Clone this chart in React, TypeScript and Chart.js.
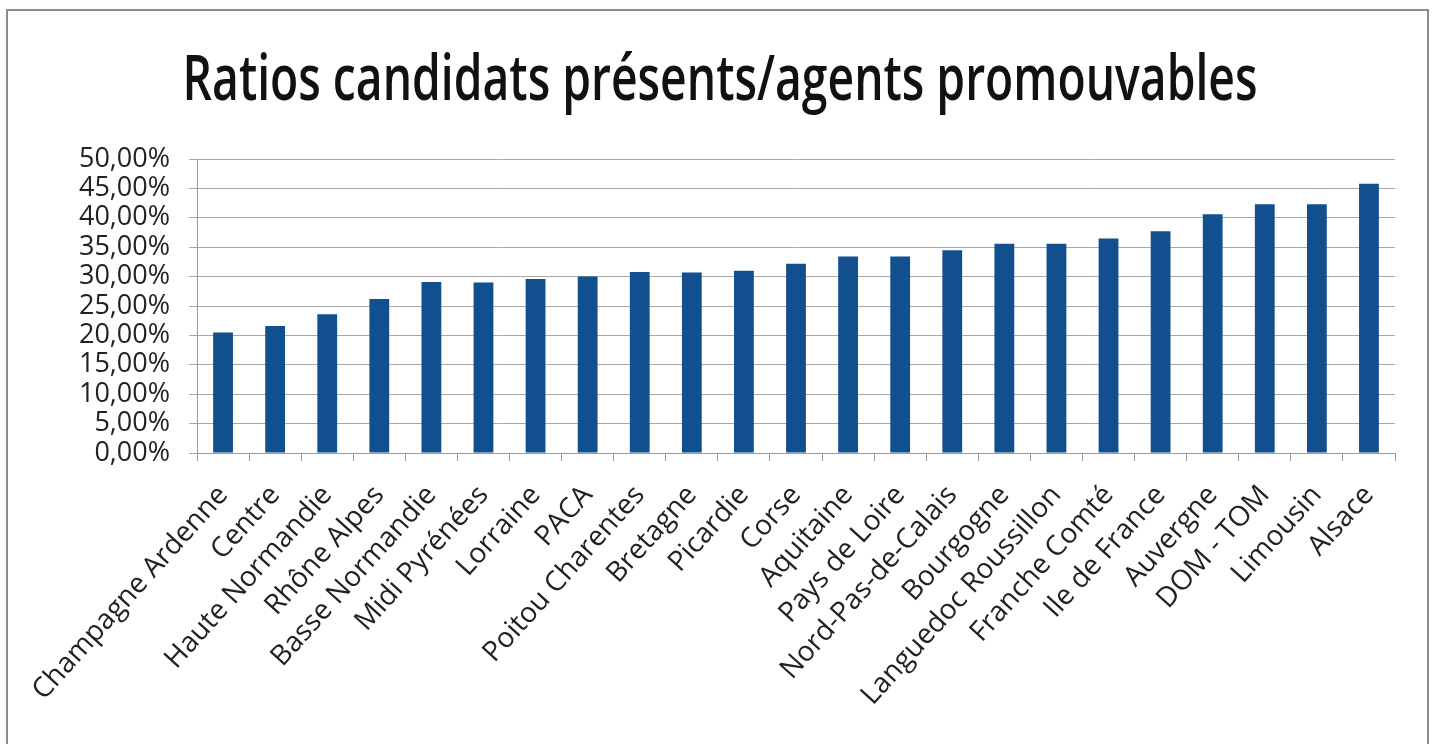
import React, { useEffect, useRef } from 'react';
import { Chart, registerables } from 'chart.js';

Chart.register(...registerables);

const TITLE = 'Ratios candidats présents/agents promouvables';

const categories = [
  'Champagne Ardenne', 'Centre', 'Haute Normandie', 'Rhône Alpes', 'Basse Normandie',
  'Midi Pyrénées', 'Lorraine', 'PACA', 'Poitou Charentes', 'Bretagne', 'Picardie',
  'Corse', 'Aquitaine', 'Pays de Loire', 'Nord-Pas-de-Calais', 'Bourgogne',
  'Languedoc Roussillon', 'Franche Comté', 'Ile de France', 'Auvergne', 'DOM - TOM',
  'Limousin', 'Alsace',
];

const ratios = [
  20.5, 21.6, 23.6, 26.2, 29.1,
  29.0, 29.6, 30.0, 30.8, 30.7, 31.0,
  32.2, 33.4, 33.4, 34.5, 35.6,
  35.6, 36.5, 37.7, 40.6, 42.3,
  42.3, 45.8,
];

const yMin = 0;
const yMax = 50;
const yStep = 5;

const formatPct = (v: number) => v.toFixed(2).replace('.', ',') + '%';

const titlePlugin = {
  id: 'scaledTitle',
  afterDraw(chart: any) {
    const ctx = chart.ctx as CanvasRenderingContext2D;
    ctx.save();
    ctx.font = '600 64px "Open Sans"';
    const w = ctx.measureText(TITLE).width;
    const sx = 1075 / w;
    ctx.translate(720, 100);
    ctx.scale(sx, 1);
    ctx.textAlign = 'center';
    ctx.textBaseline = 'alphabetic';
    ctx.fillStyle = '#111111';
    ctx.fillText(TITLE, 0, 0);
    ctx.restore();
  },
};

export default function App() {
  const canvasRef = useRef<HTMLCanvasElement | null>(null);

  useEffect(() => {
    if (!canvasRef.current) return;
    const chart = new Chart(canvasRef.current, {
      type: 'bar',
      data: {
        labels: categories,
        datasets: [
          {
            data: ratios,
            backgroundColor: '#114f8f',
            borderWidth: 0,
            categoryPercentage: 1,
            barPercentage: 0.38,
          },
        ],
      },
      options: {
        responsive: false,
        animation: false,
        events: [],
        layout: { padding: { top: 159, right: 38, left: 0, bottom: 0 } },
        plugins: {
          legend: { display: false },
          title: { display: false },
          tooltip: { enabled: false },
        },
        scales: {
          x: {
            offset: true,
            grid: {
              offset: true,
              drawOnChartArea: false,
              drawTicks: true,
              tickLength: 8,
              color: '#9a9a9a',
            },
            border: { display: true, color: '#9a9a9a', width: 1 },
            ticks: {
              autoSkip: false,
              minRotation: 48,
              maxRotation: 48,
              padding: 18,
              color: '#222222',
              font: { family: '"Open Sans"', size: 28 },
            },
            afterFit: (scale: any) => {
              scale.height = 744 - 453;
            },
          },
          y: {
            min: yMin,
            max: yMax,
            ticks: {
              stepSize: yStep,
              autoSkip: false,
              padding: 19,
              color: '#222222',
              font: { family: '"Open Sans"', size: 27, lineHeight: 1 },
              callback: (v: any) => formatPct(Number(v)),
            },
            grid: {
              color: '#a8a8a8',
              lineWidth: 1,
              tickLength: 8,
            },
            border: { display: true, color: '#9a9a9a', width: 1 },
            afterFit: (scale: any) => {
              scale.width = 197;
            },
          },
        },
      },
      plugins: [titlePlugin],
    });
    return () => chart.destroy();
  }, []);

  return (
    <div
      style={{
        position: 'fixed',
        left: 0,
        top: 0,
        width: 1433,
        height: 744,
        background: '#ffffff',
        overflow: 'hidden',
      }}
    >
      <canvas
        ref={canvasRef}
        width={1433}
        height={744}
        style={{ position: 'absolute', left: 0, top: 0, width: 1433, height: 744 }}
      />
      <div
        style={{
          position: 'absolute',
          left: 6,
          top: 9,
          width: 1419,
          height: 780,
          border: '2px solid #8c8c8c',
          pointerEvents: 'none',
        }}
      />
    </div>
  );
}
